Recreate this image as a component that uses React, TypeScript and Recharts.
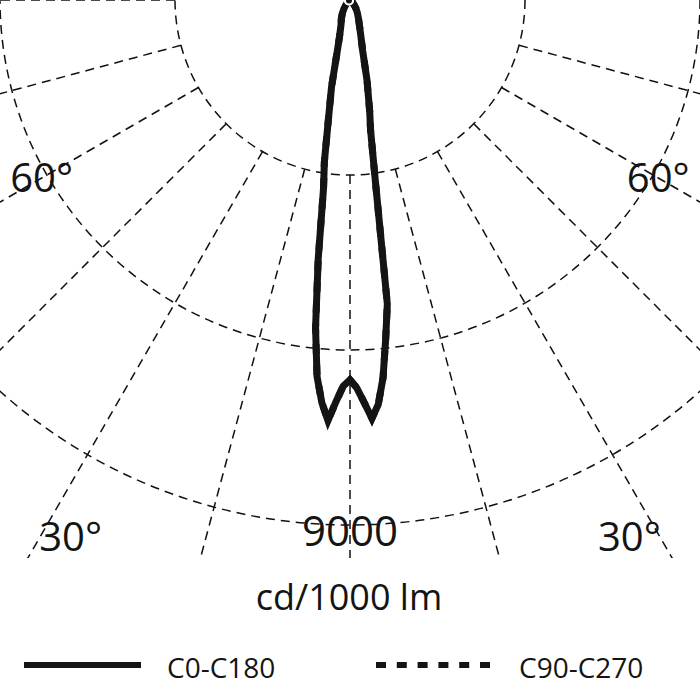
import React from 'react';
import { RadarChart, Radar, PolarGrid, PolarAngleAxis, PolarRadiusAxis, Legend } from 'recharts';

// gamma angle (deg); positive = left half of the diagram
const gammaAngles = [-60, -50, -40, -35, -30, -25, -20, -16, -14, -12, -10, -9, -8, -7, -6, -5, -4, -3, -2, -1, 0, 1, 2, 3, 4, 5, 6, 7, 8, 9, 10, 12, 14, 16, 20, 25, 30, 35, 40, 50, 60];
// cd/1000 lm
const c0c180 = [20, 50, 110, 180, 250, 340, 480, 700, 900, 1400, 1950, 2250, 3100, 5250, 5850, 6500, 6950, 7180, 6900, 6650, 6510, 6620, 6890, 7220, 6920, 6480, 5650, 4470, 3260, 2810, 2200, 1520, 900, 650, 450, 350, 260, 180, 120, 50, 20];
const c90c270 = [20, 50, 110, 180, 250, 340, 480, 700, 900, 1400, 1950, 2250, 3100, 5250, 5850, 6500, 6950, 7180, 6900, 6650, 6510, 6620, 6890, 7220, 6920, 6480, 5650, 4470, 3260, 2810, 2200, 1520, 900, 650, 450, 350, 260, 180, 120, 50, 20];

const ringValues = [3000, 6000, 9000, 12000];
const radialGammas = [0, 15, -15, 30, -30, 45, -45, 60, -60, 75, -75, 90];
const angleTickValues = [-60, -30, 30, 60];
const radiusTickValues = [9000];
const unitLabel = 'cd/1000 lm';

const CX = 350;
const CY = 0;
const OUTER = 700;
const MAX_VALUE = 12000;
const FONT = "'Open Sans', sans-serif";
const INK = '#141414';

const data = gammaAngles.map((g, i) => ({ gamma: g, c0: c0c180[i], c90: c90c270[i] }));
const gridRadii = ringValues.map((v) => (v / MAX_VALUE) * OUTER);
const gridAngles = radialGammas.map((g) => -90 - g);

// label placement (radius in px, angle in deg) for the gamma labels
const angleLabelPlacement: Record<number, { r: number; a: number }> = {
  60: { r: 356, a: 60 },
  30: { r: 605, a: 27.5 },
};

const AngleTick = (props: any) => {
  const v = props.payload?.value as number;
  const spec = angleLabelPlacement[Math.abs(v)];
  if (!spec) return null;
  const side = v > 0 ? -1 : 1;
  const rad = (spec.a * Math.PI) / 180;
  const x = CX + side * spec.r * Math.sin(rad);
  const yc = CY + spec.r * Math.cos(rad);
  return (
    <text x={x} y={yc + 14.3} textAnchor="middle" fontSize={40} fontFamily={FONT} fill={INK}>
      {`${Math.abs(v)}°`}
    </text>
  );
};

const RadiusTick = (props: any) => (
  <text x={props.x} y={props.y + 21} textAnchor="middle" fontSize={42} fontFamily={FONT} fill={INK}>
    {props.payload?.value}
  </text>
);

const LegendContent = (props: any) => {
  const items = [...(props.payload || [])].sort((a: any, b: any) => String(a.value).length - String(b.value).length);
  const slots = [
    { x1: 24, x2: 141, tx: 167 },
    { x1: 376, x2: 490, tx: 519 },
  ];
  return (
    <svg width={700} height={140} style={{ display: 'block' }}>
      <text x={349} y={50} textAnchor="middle" fontSize={36} fontFamily={FONT} fill={INK}>
        {unitLabel}
      </text>
      {items.map((it: any, i: number) => {
        const s = slots[i];
        const dash = it.payload?.strokeDasharray;
        return (
          <g key={String(it.value)}>
            <line x1={s.x1} x2={s.x2} y1={105} y2={105} stroke={INK} strokeWidth={6} strokeDasharray={dash} />
            <text x={s.tx} y={118} fontSize={28} fontFamily={FONT} fill={INK}>
              {it.value}
            </text>
          </g>
        );
      })}
    </svg>
  );
};

export default function App() {
  return (
    <div style={{ position: 'absolute', left: 0, top: 0, width: 700, height: 700, background: '#fff', overflow: 'hidden' }}>
      <div style={{ position: 'absolute', left: 0, top: 0, width: 700, height: 558, overflow: 'hidden' }}>
        <RadarChart
          width={700}
          height={700}
          cx={CX}
          cy={CY}
          innerRadius={175}
          outerRadius={800}
          startAngle={90}
          endAngle={-270}
          data={data}
          margin={{ top: 0, right: 0, bottom: 0, left: 0 }}
        >
          <PolarGrid
            gridType="circle"
            polarRadius={gridRadii}
            polarAngles={gridAngles}
            stroke="#111"
            strokeWidth={1.5}
            strokeDasharray="9 6"
          />
        </RadarChart>
      </div>
      <div style={{ position: 'absolute', left: 0, top: 0, width: 700, height: 700 }}>
        <RadarChart
          width={700}
          height={700}
          cx={CX}
          cy={CY}
          innerRadius={0}
          outerRadius={OUTER}
          startAngle={90}
          endAngle={-270}
          data={data}
          margin={{ top: 0, right: 0, bottom: 0, left: 0 }}
        >
          <PolarAngleAxis
            dataKey="gamma"
            type="number"
            domain={[-180, 180]}
            ticks={angleTickValues}
            axisLine={false}
            tickLine={false}
            tick={AngleTick}
          />
          <PolarRadiusAxis
            angle={-90}
            type="number"
            domain={[0, MAX_VALUE]}
            ticks={radiusTickValues}
            axisLine={false}
            tickLine={false}
            tick={RadiusTick}
          />
          <Radar
            dataKey="c90"
            name="C90-C270"
            stroke={INK}
            strokeWidth={7}
            strokeDasharray="10 10.8"
            fill="none"
            fillOpacity={0}
            dot={false}
            isAnimationActive={false}
          />
          <Radar
            dataKey="c0"
            name="C0-C180"
            stroke={INK}
            strokeWidth={7}
            fill="none"
            fillOpacity={0}
            dot={false}
            isAnimationActive={false}
          />
          <Legend
            content={LegendContent}
            wrapperStyle={{ position: 'absolute', left: 0, top: 560, width: 700, height: 140 }}
          />
        </RadarChart>
      </div>
    </div>
  );
}
